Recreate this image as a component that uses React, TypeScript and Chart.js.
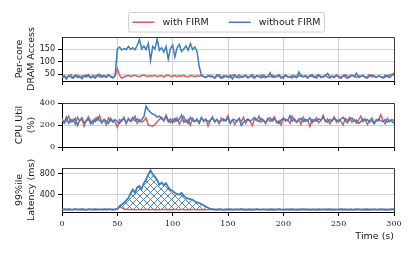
import React, { useEffect, useRef } from 'react';
import { Chart, registerables } from 'chart.js';

Chart.register(...registerables);

// sampling grid (seconds)
const times: number[] = Array.from({ length: 151 }, (_, i) => i * 2);
const xTicks = [0, 50, 100, 150, 200, 250, 300];
const dramTicks = [50, 100, 150];
const cpuTicks = [0, 200, 400];
const latTicks = [400, 800];
const seriesNames = ['with FIRM', 'without FIRM'];
const seriesColors = ['#d65f5f', '#3d7ebf'];

const dramWith = [
  38, 44, 36, 42, 48, 35, 40, 45, 37, 43, 39, 46, 41, 36, 44, 40, 47, 38, 42, 45, 39, 48, 41, 37, 44,
  72, 45, 33,
  38, 42, 44, 40, 43, 45, 41, 39, 44, 46, 42, 40, 43, 41, 45, 39, 42, 44, 38, 43, 46, 40, 42, 44, 39, 43, 41, 45, 40, 38, 44, 42, 39, 43, 41, 44, 40,
  36, 42, 45, 38, 33, 41, 47, 39, 35, 43, 40, 36, 44, 48, 37, 34, 42, 39, 45, 36, 41, 38, 33, 44, 40, 46, 37, 35, 42, 39,
  45, 36, 41, 48, 38, 34, 43, 40, 37, 44, 39, 35, 42, 46, 38, 41, 33, 44, 40, 37, 43, 48, 36, 40, 45, 38, 34, 42, 39, 47,
  41, 36, 44, 38, 33, 42, 46, 40, 37, 43, 39, 45, 35, 41, 48, 38, 44, 36, 42, 40, 34, 37, 43, 46, 48, 55,
];
const dramWithout = [
  35, 40, 30, 44, 38, 33, 46, 36, 41, 31, 43, 38, 47, 35, 40, 33, 44, 49, 37, 42, 36, 45, 39, 34, 43,
  150, 158, 146, 152, 148, 160, 149, 155, 147, 165, 188, 150, 162, 148, 172, 105, 160, 150, 190, 145, 155, 138, 160, 110, 152, 165, 118, 155, 168, 140, 150, 162, 145, 172, 148, 158, 140,
  80, 45,
  40, 36, 44, 38, 42, 35, 47, 39, 33, 43, 41, 37, 45, 30, 42, 38, 46, 36, 40, 44, 34, 41, 48, 37, 43, 39, 35, 45, 40, 38,
  55, 36, 42, 39, 44, 33, 41, 46, 38, 40, 35, 43, 37, 58, 41, 39, 44, 36, 42, 47, 38, 34, 45, 40, 37, 43, 52, 39, 41, 36,
  44, 38, 33, 42, 47, 40, 37, 45, 39, 53, 36, 41, 44, 38, 34, 42, 46, 40, 37, 43, 39, 35, 45, 41, 36, 44, 48,
];
const cpuWith = [
  260, 215, 240, 280, 225, 250, 205, 270, 235, 255, 190, 245, 275, 230, 210, 260, 240, 285, 220, 250, 200, 265, 235, 245, 225,
  180, 250, 235, 270, 210, 260, 230, 245, 280, 215, 250, 225, 240, 265, 200, 195, 190, 205, 230, 250, 270, 235, 290, 245, 220, 255,
  230, 265, 210, 245, 280, 225, 250, 200, 260, 235, 245, 215, 270, 230, 255, 190, 240, 275, 225, 250,
  210, 265, 235, 245, 285, 220, 250, 205, 240, 260, 230, 270, 215, 250, 235, 195, 255, 240, 280, 225,
  245, 210, 260, 230, 250, 275, 220, 240, 200, 265, 235, 250, 215, 280, 240, 225, 255, 205, 270, 230,
  245, 185, 250, 235, 265, 220, 240, 290, 230, 255, 210, 245, 275, 225, 250, 235, 200, 260, 240, 270,
  225, 250, 215, 245, 280, 230, 255, 205, 240, 265, 220, 250, 235, 295, 245, 210, 260, 230, 250, 240,
];
const cpuWithout = [
  240, 225, 270, 215, 250, 230, 260, 195, 245, 265, 220, 235, 255, 210, 245, 230, 270, 240, 220, 250, 235, 215, 260, 225, 250,
  230, 215, 245, 260, 225, 250, 240, 270, 235, 255, 230, 250, 275, 372, 335, 315, 300, 292, 270, 282, 255, 245, 275, 230, 255, 220,
  260, 235, 250, 290, 225, 245, 215, 270, 240, 230, 255, 220, 265, 240, 250, 230, 245, 260, 235, 250,
  225, 240, 255, 235, 265, 215, 245, 250, 230, 260, 195, 225, 240, 255, 235, 250, 270, 245, 230, 260,
  240, 225, 250, 265, 235, 255, 230, 215, 245, 260, 250, 240, 285, 235, 255, 225, 245, 260, 230, 250,
  240, 265, 220, 250, 235, 255, 245, 270, 240, 225, 250, 235, 260, 245, 230, 255, 270, 240, 220, 250,
  265, 235, 245, 215, 230, 255, 240, 250, 225, 245, 210, 235, 255, 240, 230, 250, 225, 245, 235, 215,
];
const latWith = [
  108, 112, 106, 110, 105, 109, 113, 107, 111, 106, 110, 104, 108, 112, 107, 109, 105, 111, 108, 110, 106, 112, 109, 107, 110,
  115, 165,
  140, 118, 112, 110, 108, 111, 107, 109, 112, 106, 110, 108, 105, 109, 111, 107, 110, 106, 109, 112,
  108, 105, 110, 107, 109, 111, 106, 108, 112, 107, 109, 105, 110, 108, 106, 111, 107, 109, 104, 110,
  108, 112, 106, 109, 107, 110, 105, 108, 111, 107, 109, 106, 110, 108, 113, 105, 109, 107, 111, 106,
  108, 110, 104, 109, 112, 107, 108, 105, 110, 106, 109, 111, 107, 108, 105, 110, 106, 112, 108, 107,
  109, 104, 110, 108, 111, 106, 109, 107, 112, 105, 108, 110, 106, 109, 107, 111, 105, 108, 110, 106,
  109, 112, 107, 108, 105, 110, 106, 109, 111, 107, 108, 105, 110, 107, 109, 111, 106, 108, 110, 107,
  109, 106, 108, 110,
];
const latWithout = [
  112, 115, 110, 118, 113, 109, 116, 111, 114, 117, 112, 108, 115, 113, 110, 116, 112, 114, 109, 115, 111, 117, 113, 110, 114,
  120, 175, 205, 240, 285, 330, 420, 495, 430, 540, 560, 510, 620, 690, 790, 865, 790, 740, 680, 590, 630, 580, 620, 540, 490,
  470, 430, 410, 400, 430, 380, 340, 320, 310, 295, 270, 250, 235, 215, 190, 165, 145, 125, 115,
  112, 109, 115, 111, 108, 114, 110, 116, 107, 113, 111, 109, 115, 112, 106, 114, 110, 113, 108, 116,
  112, 109, 114, 111, 107, 115, 110, 113, 109, 117, 111, 108, 114, 112, 110, 115, 107, 113, 109, 116,
  112, 110, 114, 108, 113, 111, 109, 115, 107, 112, 114, 110, 116, 109, 113, 108, 111, 115, 110, 112,
  107, 114, 111, 109, 116, 112, 108, 113, 110, 115, 109, 112, 114, 108, 111, 117, 110, 113, 109, 112,
  115, 111,
];

const W = 415;
const H = 257;
const PLOT_LEFT = 62;
const PLOT_RIGHT = 394;
const gridColor = '#d2d2d2';
const textColor = '#1a1a1a';

type Panel = {
  red: number[];
  blue: number[];
  ymin: number;
  ymax: number;
  yTicks: number[];
  title: string[];
  top: number;
  bottom: number;
  xHeight: number;
  yFontFamily: string;
  showX: boolean;
  hatch: boolean;
  legend: boolean;
  blueWidth: number;
};

const panels: Panel[] = [
  { red: dramWith, blue: dramWithout, ymin: 22, ymax: 198, yTicks: dramTicks, title: ['Per-core', 'DRAM Access'], top: 37, bottom: 81, xHeight: 9, yFontFamily: 'DejaVu Sans', showX: false, hatch: false, legend: true, blueWidth: 1.5 },
  { red: cpuWith, blue: cpuWithout, ymin: 0, ymax: 400, yTicks: cpuTicks, title: ['CPU Util', '(%)'], top: 103, bottom: 147, xHeight: 9, yFontFamily: 'DejaVu Serif', showX: false, hatch: false, legend: false, blueWidth: 1.5 },
  { red: latWith, blue: latWithout, ymin: 62, ymax: 912, yTicks: latTicks, title: ['99%ile', 'Latency (ms)'], top: 168, bottom: 212, xHeight: 45, yFontFamily: 'DejaVu Sans', showX: true, hatch: true, legend: false, blueWidth: 1.8 },
];

const toXY = (vals: number[]) => vals.map((v, i) => ({ x: times[i], y: v }));

const framePlugin = {
  id: 'frame',
  afterDraw(chart: any) {
    const { ctx, chartArea: a } = chart;
    ctx.save();
    ctx.strokeStyle = '#3c3c3c';
    ctx.lineWidth = 1;
    ctx.beginPath();
    ctx.moveTo(Math.round(a.left) + 0.5, Math.round(a.top) + 0.5);
    ctx.lineTo(Math.round(a.right) + 0.5, Math.round(a.top) + 0.5);
    ctx.lineTo(Math.round(a.right) + 0.5, Math.round(a.bottom) + 0.5);
    ctx.stroke();
    ctx.restore();
  },
};

const legendPlugin = {
  id: 'boxLegend',
  afterDraw(chart: any) {
    const ctx = chart.ctx;
    ctx.save();
    ctx.font = '9.5px "DejaVu Sans"';
    const lineLen = 22, gapLT = 8, gapItems = 20, pad = 4;
    const widths = seriesNames.map((n) => ctx.measureText(n).width);
    const total = pad * 2 + seriesNames.length * (lineLen + gapLT) + widths.reduce((s, w) => s + w, 0) + gapItems * (seriesNames.length - 1);
    const cx = (chart.chartArea.left + chart.chartArea.right) / 2 - 1.5;
    const x0 = Math.round(cx - total / 2) + 0.5;
    const y0 = 12.5, h = 19.5, r = 2;
    ctx.beginPath();
    ctx.moveTo(x0 + r, y0);
    ctx.lineTo(x0 + total - r, y0);
    ctx.arcTo(x0 + total, y0, x0 + total, y0 + r, r);
    ctx.lineTo(x0 + total, y0 + h - r);
    ctx.arcTo(x0 + total, y0 + h, x0 + total - r, y0 + h, r);
    ctx.lineTo(x0 + r, y0 + h);
    ctx.arcTo(x0, y0 + h, x0, y0 + h - r, r);
    ctx.lineTo(x0, y0 + r);
    ctx.arcTo(x0, y0, x0 + r, y0, r);
    ctx.closePath();
    ctx.fillStyle = '#ffffff';
    ctx.fill();
    ctx.strokeStyle = '#d0d0d0';
    ctx.lineWidth = 1;
    ctx.stroke();
    let x = x0 + pad;
    const ym = y0 + h / 2;
    seriesNames.forEach((n, i) => {
      ctx.strokeStyle = seriesColors[i];
      ctx.lineWidth = 1.5;
      ctx.beginPath();
      ctx.moveTo(x, ym);
      ctx.lineTo(x + lineLen, ym);
      ctx.stroke();
      x += lineLen + gapLT;
      ctx.fillStyle = textColor;
      ctx.textBaseline = 'middle';
      ctx.textAlign = 'left';
      ctx.fillText(n, x, ym);
      x += widths[i] + gapItems;
    });
    ctx.restore();
  },
};

function makeHatch(): CanvasPattern | string {
  const s = 7;
  const off = document.createElement('canvas');
  off.width = s;
  off.height = s;
  const c = off.getContext('2d');
  if (!c) return 'rgba(0,0,0,0)';
  c.strokeStyle = seriesColors[1];
  c.lineWidth = 0.9;
  c.beginPath();
  c.moveTo(-1, -1);
  c.lineTo(s + 1, s + 1);
  c.moveTo(s + 1, -1);
  c.lineTo(-1, s + 1);
  c.stroke();
  const pat = c.createPattern(off, 'repeat');
  return pat || 'rgba(0,0,0,0)';
}

function buildChart(canvas: HTMLCanvasElement, p: Panel) {
  const hatch = p.hatch ? makeHatch() : null;
  const datasets: any[] = [
    {
      label: seriesNames[0],
      data: toXY(p.red),
      borderColor: seriesColors[0],
      backgroundColor: seriesColors[0],
      borderWidth: 1.5,
      pointRadius: 0,
      order: 2,
      fill: false,
    },
    {
      label: seriesNames[1],
      data: toXY(p.blue),
      borderColor: seriesColors[1],
      backgroundColor: seriesColors[1],
      borderWidth: p.blueWidth,
      pointRadius: 0,
      order: 1,
      fill: p.hatch ? { target: 0, above: hatch, below: 'rgba(0,0,0,0)' } : false,
    },
  ];
  return new Chart(canvas, {
    type: 'line',
    data: { datasets },
    options: {
      responsive: false,
      animation: false,
      devicePixelRatio: 1,
      events: [],
      layout: {
        padding: { left: 0, right: W - PLOT_RIGHT, top: p.top, bottom: H - p.bottom - p.xHeight },
      },
      plugins: {
        legend: { display: false },
        tooltip: { enabled: false },
        filler: { drawTime: 'beforeDatasetsDraw' },
      } as any,
      scales: {
        x: {
          type: 'linear',
          min: 0,
          max: 300,
          afterBuildTicks: (s: any) => {
            s.ticks = xTicks.map((v) => ({ value: v }));
          },
          afterFit: (s: any) => {
            s.height = p.xHeight;
          },
          grid: { color: gridColor, lineWidth: 1, drawTicks: true, tickLength: 4, tickColor: '#000' },
          border: { display: true, color: '#000', width: 1 },
          ticks: {
            display: p.showX,
            font: { family: 'DejaVu Serif', size: 8 },
            color: textColor,
            padding: 3,
            maxRotation: 0,
            autoSkip: false,
          },
          title: {
            display: p.showX,
            text: 'Time (s)',
            align: 'end',
            color: textColor,
            font: { family: 'DejaVu Sans', size: 9.5 },
            padding: { top: 0, bottom: 15 },
          },
        },
        y: {
          type: 'linear',
          min: p.ymin,
          max: p.ymax,
          afterBuildTicks: (s: any) => {
            s.ticks = p.yTicks.map((v) => ({ value: v }));
          },
          afterFit: (s: any) => {
            s.width = PLOT_LEFT;
          },
          grid: { color: gridColor, lineWidth: 1, drawTicks: true, tickLength: 4, tickColor: '#000' },
          border: { display: true, color: '#000', width: 1 },
          ticks: {
            font: { family: p.yFontFamily, size: 8 },
            color: textColor,
            padding: 3,
          },
          title: {
            display: true,
            text: p.title,
            color: textColor,
            font: { family: 'DejaVu Sans', size: 9.5 },
            padding: { top: 14, bottom: 0 },
          },
        },
      },
    } as any,
    plugins: p.legend ? [framePlugin, legendPlugin] : [framePlugin],
  });
}

export default function App() {
  const r0 = useRef<HTMLCanvasElement>(null);
  const r1 = useRef<HTMLCanvasElement>(null);
  const r2 = useRef<HTMLCanvasElement>(null);

  useEffect(() => {
    Chart.defaults.font.family = 'DejaVu Sans';
    const refs = [r0, r1, r2];
    const charts = panels.map((p, i) => buildChart(refs[i].current as HTMLCanvasElement, p));
    return () => charts.forEach((c) => c.destroy());
  }, []);

  const cs: React.CSSProperties = { position: 'absolute', left: 0, top: 0, width: W, height: H, display: 'block' };
  return (
    <div style={{ position: 'fixed', left: 0, top: 0, width: W, height: H, background: '#fff' }}>
      <canvas ref={r0} width={W} height={H} style={cs} />
      <canvas ref={r1} width={W} height={H} style={cs} />
      <canvas ref={r2} width={W} height={H} style={cs} />
    </div>
  );
}
